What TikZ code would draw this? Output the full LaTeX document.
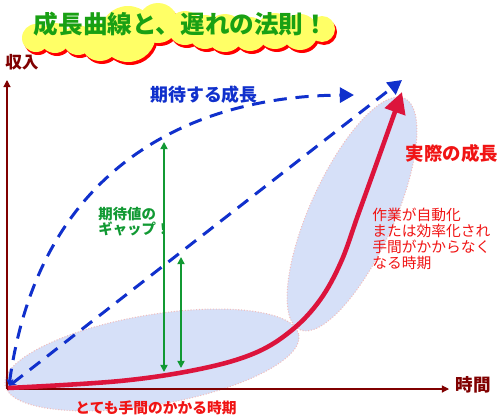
\documentclass[tikz,border=0pt]{standalone}
\usepackage{fontspec}
\setmainfont{Noto Sans CJK JP}
\usetikzlibrary{arrows.meta,positioning}
\definecolor{axisred}{RGB}{128,0,0}
\definecolor{expblue}{RGB}{16,48,204}
\definecolor{realred}{RGB}{220,20,60}
\definecolor{textred}{RGB}{240,20,20}
\definecolor{gapgreen}{RGB}{17,153,51}
\definecolor{titlegreen}{RGB}{25,160,20}
\definecolor{phasefill}{RGB}{214,224,248}
\definecolor{phaseline}{RGB}{240,190,190}
\definecolor{cloudyellow}{RGB}{255,255,102}
\tikzset{
  % axes of the chart
  axisline/.style = {draw=axisred, line width=0.6pt, -{Triangle[length=4pt,width=4pt]}},
  % expected growth: dashed blue
  expedge/.style  = {draw=expblue, line width=1.7pt, dash pattern=on 7.5pt off 5pt,
                     {Stealth[length=4pt,width=4pt]}-{Triangle[length=8pt,width=8.5pt]}},
  % actual growth: thick red
  realedge/.style = {draw=realred, line width=2.6pt, -{Triangle[length=12pt,width=12pt]}},
  % gap between expectation and reality
  gapedge/.style  = {draw=gapgreen, line width=0.9pt,
                     {Triangle[length=4pt,width=4pt]}-{Triangle[length=4pt,width=4pt]}},
  % shaded phase of the curve
  phase/.style    = {fill=phasefill, draw=phaseline, densely dotted, line width=0.6pt},
  % label font for figures
  jlabel/.style   = {inner sep=0pt, font=\bfseries},
}

\begin{document}
\begin{tikzpicture}[x=0.02cm, y=-0.02cm]
  \useasboundingbox (0,0) rectangle (500,416);

  % title cloud: red shadow, then yellow
  \foreach \cx/\cy/\r in {36/38/14, 55/38/15, 78/40/15, 100/42/19, 128/34/28,
      158/23/20, 185/28/17, 205/32/17, 225/33/19, 250/34/17, 275/31/18,
      300/32/18, 322/29/13}{
    \fill[red] (\cx+2,\cy+3) circle (\r);
  }
  \foreach \cx/\cy/\r in {36/38/14, 55/38/15, 78/40/15, 100/42/19, 128/34/28,
      158/23/20, 185/28/17, 205/32/17, 225/33/19, 250/34/17, 275/31/18,
      300/32/18, 322/29/13}{
    \fill[cloudyellow] (\cx,\cy) circle (\r);
  }
  \node[jlabel, text=titlegreen, font=\fontsize{14}{16}\bfseries] (title) at (181,24)
    {成長曲線と、遅れの法則！};

  % phases
  \draw[phase, rotate around={9.7:(152,360)}] (152,360) ellipse [x radius=149, y radius=45];
  \draw[phase, rotate around={65.6:(352,214)}] (352,214) ellipse [x radius=127, y radius=42];

  % axes
  \coordinate (O) at (7,389);
  \coordinate (ytip) at (7,80);
  \coordinate (xtip) at (449,389);
  \draw[axisline] (O) -- (ytip);
  \draw[axisline] (O) -- (xtip);
  \node[jlabel, text=axisred, font=\fontsize{9.5}{11}\bfseries] (income) at (22,62) {収入};
  \node[jlabel, text=axisred, font=\fontsize{10}{12}\bfseries] (time) at (473,385) {時間};

  % gap arrows
  \coordinate (gapAtop) at (164,142);
  \coordinate (gapAbot) at (164,372);
  \coordinate (gapBtop) at (181,257);
  \coordinate (gapBbot) at (181,368);
  \draw[gapedge] (gapAtop) -- (gapAbot);
  \draw[gapedge] (gapBtop) -- (gapBbot);
  \node[jlabel, text=gapgreen, align=left, anchor=north west,
        font=\fontsize{8.2}{8.5}\bfseries] (gaptext) at (98,207) {期待値の\\ギャップ！};

  % expected growth
  \coordinate (expS) at (9,386);
  \coordinate (expA) at (354,95);
  \coordinate (expB) at (402,80);
  \draw[expedge] (expS) .. controls (40,160) and (200,96) .. (expA);
  \draw[expedge] (expS) -- (expB);
  \node[jlabel, text=expblue, font=\fontsize{10.2}{12}\bfseries] (explabel) at (204,95) {期待する成長};

  % actual growth
  \coordinate (realS) at (8,388);
  \coordinate (realE) at (402,92);
  \draw[realedge] plot[smooth, tension=0.6] coordinates {(realS) (120,381) (200,369)
      (255,353) (292,330) (320,300) (341,262) (358,215) (376,165) (realE)};
  \node[jlabel, text=textred, font=\fontsize{10.5}{12}\bfseries] (reallabel) at (452,153) {実際の成長};

  % phase labels
  \node[inner sep=0pt, text=textred, align=left, anchor=north west,
        font=\fontsize{8.4}{9.1}\selectfont] (fastphase) at (372,208)
    {作業が自動化\\または効率化され\\手間がかからなく\\なる時期};
  \node[jlabel, text=textred, font=\fontsize{8.4}{10}\bfseries] (slowphase) at (156,408)
    {とても手間のかかる時期};
\end{tikzpicture}
\end{document}
